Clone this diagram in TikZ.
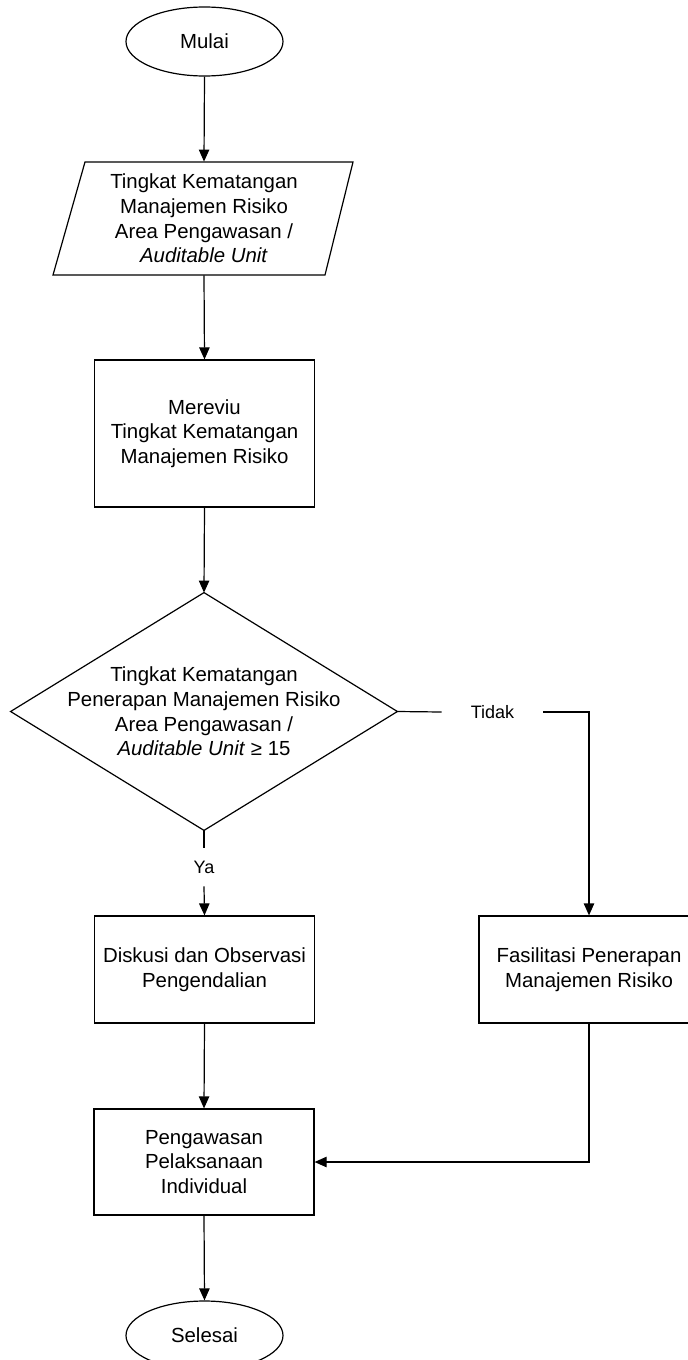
\documentclass[tikz,border=0pt]{standalone}
\usepackage{fontspec}
\setmainfont{Liberation Sans}
\usetikzlibrary{shapes.geometric,arrows.meta}
\begin{document}
\begin{tikzpicture}[x=0.5pt,y=-0.5pt,
  every node/.style={font=\fontsize{10.2}{12.3}\selectfont, align=center, inner sep=0pt},
  line/.style={draw=black, line width=0.6pt},
  arr/.style={line, -{Triangle[length=6pt,width=5.2pt]}},
  term/.style={ellipse, draw, line width=0.6pt, minimum width=78.5pt, minimum height=34.5pt},
  proc/.style={rectangle, draw, line width=0.6pt, minimum width=110pt},
  lbl/.style={font=\fontsize{9}{11}\selectfont, fill=white}
]
\useasboundingbox (0,0) rectangle (688,1360);

\node[term] (mulai) at (204.5,41.5) {Mulai};

\node[minimum width=118pt, minimum height=56.5pt] (para) at (204,218.5)
  {Tingkat Kematangan\\Manajemen Risiko\\Area Pengawasan /\\\textit{Auditable Unit}};
\draw[line] (85,162) -- (353,162) -- (325,275) -- (53,275) -- cycle;

\node[proc, minimum height=73.5pt] (rev) at (204.5,433.5)
  {Mereviu\\Tingkat Kematangan\\Manajemen Risiko};

\node[minimum width=193pt, minimum height=118.5pt] (dia) at (204,711.5)
  {Tingkat Kematangan\\Penerapan Manajemen Risiko\\Area Pengawasan /\\\textit{Auditable Unit} ≥ 15};
\draw[line] (dia.north) -- (dia.east) -- (dia.south) -- (dia.west) -- cycle;

\node[lbl, minimum height=19pt] (ya) at (204,867) {Ya};
\node[lbl, minimum width=50.5pt] (tidak) at (492.5,712) {Tidak};

\node[proc, minimum height=53.5pt] (disk) at (204.5,969.5)
  {Diskusi dan Observasi\\Pengendalian};
\node[proc, minimum height=53.5pt] (fas) at (589,969.5)
  {Fasilitasi Penerapan\\Manajemen Risiko};

\node[proc, minimum height=53pt] (peng) at (204,1162)
  {Pengawasan\\Pelaksanaan\\Individual};

\node[term] (selesai) at (204.5,1335.5) {Selesai};

\draw[arr] (mulai.south) -- (para.north);
\draw[arr] (para.south) -- (rev.north);
\draw[arr] (rev.south) -- (dia.north);
\draw[line] (dia.south) -- (ya.north);
\draw[arr] (ya.south) -- (disk.north);
\draw[line] (dia.east) -- (tidak.west);
\draw[arr] (tidak.east) -| (fas.north);
\draw[arr] (disk.south) -- (peng.north);
\draw[arr] (fas.south) |- (peng.east);
\draw[arr] (peng.south) -- (selesai.north);
\end{tikzpicture}
\end{document}
